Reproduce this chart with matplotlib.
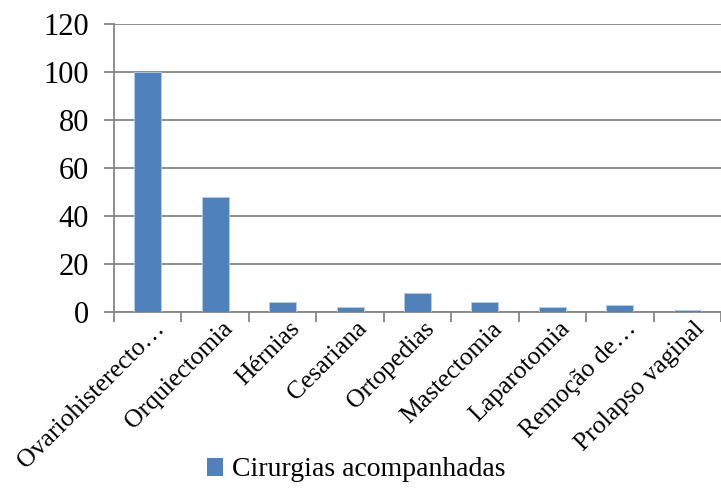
import matplotlib
matplotlib.use("Agg")
import matplotlib.pyplot as plt
import matplotlib.transforms as mtransforms
from matplotlib.patches import Patch

categories = ["Ovariohisterecto…", "Orquiectomia", "Hérnias", "Cesariana",
              "Ortopedias", "Mastectomia", "Laparotomia", "Remoção de…",
              "Prolapso vaginal"]
values = [100, 48, 4, 2, 8, 4, 2, 3, 1]
series_name = "Cirurgias acompanhadas"
yticks = [0, 20, 40, 60, 80, 100, 120]

plt.rcParams["font.family"] = ["Liberation Serif", "DejaVu Serif"]

bar_color = "#4F81BD"
grid_color = "#868686"

fig = plt.figure(figsize=(7.21, 4.91), dpi=100)
ax = fig.add_axes([114 / 721, 1 - 312 / 491, (721 - 114) / 721, (312 - 24) / 491])

x = list(range(len(categories)))
ax.bar(x, values, width=0.4, color=bar_color, edgecolor="#B9CDE5", linewidth=0.6, zorder=3)

ax.set_xlim(-0.5, len(categories) - 0.5)
ax.set_ylim(0, 120)
ax.set_yticks(yticks)
ax.set_yticklabels([str(v) for v in yticks], fontsize=22)
ax.yaxis.grid(True, color=grid_color, linewidth=1.3, zorder=0)

# category boundary ticks below the axis
ax.set_xticks([i - 0.5 for i in range(len(categories) + 1)])
ax.set_xticklabels([])
ax.set_xticks(x, minor=True)
ax.set_xticklabels(categories, minor=True, rotation=45, ha="right", va="top",
                   rotation_mode="anchor", fontsize=18.5)
ax.tick_params(axis="x", which="minor", length=0, pad=4)
ax.tick_params(axis="x", which="major", length=7, width=1.3, color=grid_color)
ax.tick_params(axis="y", length=7, width=1.3, color=grid_color, pad=11)

# nudge the slanted category labels a little to the right
shift = mtransforms.ScaledTranslation(6 / 100, 0, fig.dpi_scale_trans)
for lbl in ax.get_xticklabels(minor=True):
    lbl.set_transform(lbl.get_transform() + shift)

for side in ["top", "right"]:
    ax.spines[side].set_visible(False)
for side in ["left", "bottom"]:
    ax.spines[side].set_color(grid_color)
    ax.spines[side].set_linewidth(1.3)

fig.legend(handles=[Patch(facecolor=bar_color, label=series_name)],
           loc="center", bbox_to_anchor=(356 / 721, 1 - 470 / 491),
           frameon=False, fontsize=20, handlelength=0.6, handleheight=0.6,
           handletextpad=0.3)

fig.savefig("out.png", dpi=100)
